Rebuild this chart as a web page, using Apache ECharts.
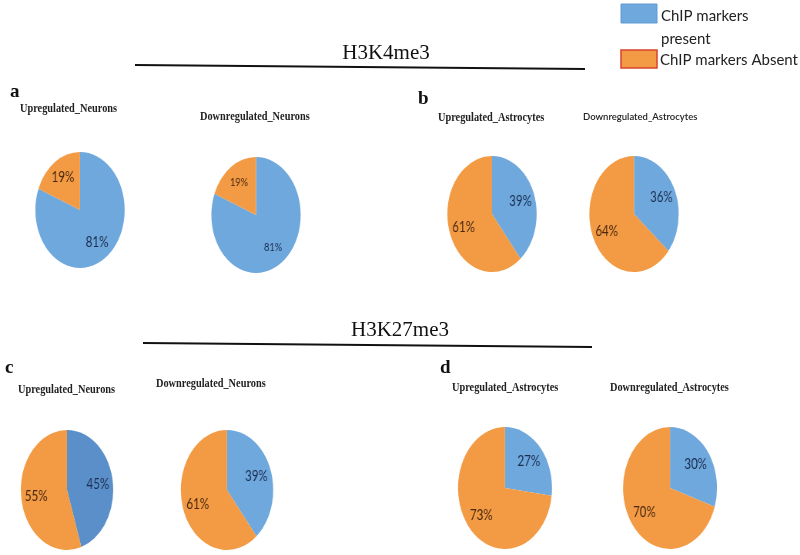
<!DOCTYPE html>
<html>
<head>
<meta charset="utf-8">
<script src="https://cdn.jsdelivr.net/npm/echarts@6/dist/echarts.min.js"></script>
<style>
  html, body { margin: 0; padding: 0; background: #ffffff; }
  #base { position: absolute; left: 0; top: 0; width: 800px; height: 555px; }
  #pies { position: absolute; left: 0; top: 0; height: 555px; transform-origin: 0 0; }
</style>
</head>
<body>
<div id="base"></div>
<div id="pies"></div>
<script>
// ---- data ----
const categories = ['ChIP markers present', 'ChIP markers Absent'];
const legendLabels = ['ChIP markers\npresent', 'ChIP markers Absent'];
const sectionTitles = ['H3K4me3', 'H3K27me3'];
const panelLetters = ['a', 'b', 'c', 'd'];
const pieTitles = [
  'Upregulated_Neurons', 'Downregulated_Neurons',
  'Upregulated_Astrocytes', 'Downregulated_Astrocytes',
  'Upregulated_Neurons', 'Downregulated_Neurons',
  'Upregulated_Astrocytes', 'Downregulated_Astrocytes'
];
const presentValues = [81, 81, 39, 36, 45, 39, 27, 30];
const absentValues  = [19, 19, 61, 64, 55, 61, 73, 70];

// ---- layout / style ----
const SX = 0.77; // horizontal squeeze -> elliptical pies like the reference
const BLUE = '#6FA8DC', BLUE_DARK = '#5B8FC9', ORANGE = '#F29A44';
const pieLayout = [
  {cx: 80,  cy: 210, r: 58, fs: 15, blue: BLUE},
  {cx: 256, cy: 215, r: 58, fs: 12, blue: BLUE},
  {cx: 492, cy: 214, r: 58, fs: 15, blue: BLUE},
  {cx: 634, cy: 214, r: 58, fs: 15, blue: BLUE},
  {cx: 67,  cy: 490, r: 60, fs: 15, blue: BLUE_DARK},
  {cx: 227, cy: 490, r: 60, fs: 15, blue: BLUE},
  {cx: 505, cy: 488, r: 61, fs: 15, blue: BLUE},
  {cx: 670, cy: 488, r: 61, fs: 15, blue: BLUE}
];
const titleLayout = [
  {x: 20,  y: 109, serif: true},
  {x: 200, y: 117, serif: true},
  {x: 438, y: 118, serif: true},
  {x: 583, y: 117, serif: false},
  {x: 18,  y: 390, serif: true},
  {x: 156, y: 384, serif: true},
  {x: 452, y: 388, serif: true},
  {x: 610, y: 388, serif: true}
];
const letterLayout = [
  {x: 10, y: 92}, {x: 418, y: 99}, {x: 5, y: 368}, {x: 440, y: 368}
];
const sectionLayout = [
  {x: 386, y: 53, x1: 135, y1: 65, x2: 585, y2: 69},
  {x: 400, y: 330, x1: 143, y1: 343, x2: 592, y2: 347}
];

// ---- base chart: texts, rules, legend ----
const base = echarts.init(document.getElementById('base'), null, {renderer: 'canvas'});
const g = [];
sectionTitles.forEach((t, i) => {
  const L = sectionLayout[i];
  g.push({type: 'text', x: L.x, y: L.y, style: {text: t, font: '21px "Liberation Serif"', fill: '#111', textAlign: 'center', textVerticalAlign: 'middle'}});
  g.push({type: 'line', shape: {x1: L.x1, y1: L.y1, x2: L.x2, y2: L.y2}, style: {stroke: '#111', lineWidth: 2}});
});
panelLetters.forEach((t, i) => {
  const L = letterLayout[i];
  g.push({type: 'text', x: L.x, y: L.y, style: {text: t, font: 'bold 19px "Liberation Serif"', fill: '#111', textVerticalAlign: 'middle'}});
});
pieTitles.forEach((t, i) => {
  const L = titleLayout[i];
  g.push({type: 'text', x: L.x, y: L.y, scaleX: L.serif ? 0.86 : 1, style: {
    text: t,
    font: L.serif ? 'bold 12px "Liberation Serif"' : '600 9.5px "Lato"',
    fill: '#222', textVerticalAlign: 'middle'}});
});
// legend
g.push({type: 'rect', shape: {x: 621, y: 4, width: 36, height: 19}, style: {fill: BLUE, stroke: '#5f9bd3', lineWidth: 1}});
g.push({type: 'text', x: 661, y: 5, style: {text: legendLabels[0], font: '15px "Lato"', fill: '#222', lineHeight: 23}});
g.push({type: 'rect', shape: {x: 621, y: 50, width: 36, height: 18}, style: {fill: ORANGE, stroke: '#D9432B', lineWidth: 1.5}});
g.push({type: 'text', x: 660, y: 60, style: {text: legendLabels[1], font: '15px "Lato"', fill: '#222', textVerticalAlign: 'middle'}});
base.setOption({backgroundColor: '#ffffff', animation: false, graphic: {elements: g}});

// ---- pie chart (squeezed horizontally) ----
const piesDiv = document.getElementById('pies');
piesDiv.style.width = (800 / SX) + 'px';
piesDiv.style.transform = 'scaleX(' + SX + ')';
const pies = echarts.init(piesDiv, null, {renderer: 'canvas'});
const series = [];
pieLayout.forEach((L, i) => {
  const data = [
    {name: categories[0], value: presentValues[i], itemStyle: {color: L.blue}},
    {name: categories[1], value: absentValues[i], itemStyle: {color: ORANGE}}
  ];
  series.push({
    type: 'pie', center: [L.cx / SX, L.cy], radius: [0, L.r],
    startAngle: 90, clockwise: true, silent: true,
    label: {show: false}, labelLine: {show: false},
    itemStyle: {borderWidth: 0},
    data: data
  });
  // label carrier: same values, transparent, labels placed a bit further out
  series.push({
    type: 'pie', center: [L.cx / SX, L.cy], radius: [L.r * 0.25, L.r],
    startAngle: 90, clockwise: true, silent: true,
    itemStyle: {color: 'transparent', borderWidth: 0},
    labelLine: {show: false},
    label: {show: true, position: 'inside', formatter: '{c}%', fontFamily: 'Lato', fontSize: L.fs},
    data: [
      {name: categories[0], value: presentValues[i], label: {color: '#1B2E52'}},
      {name: categories[1], value: absentValues[i], label: {color: '#4A2A10'}}
    ]
  });
});
pies.setOption({animation: false, backgroundColor: 'transparent', series: series});
</script>
</body>
</html>
